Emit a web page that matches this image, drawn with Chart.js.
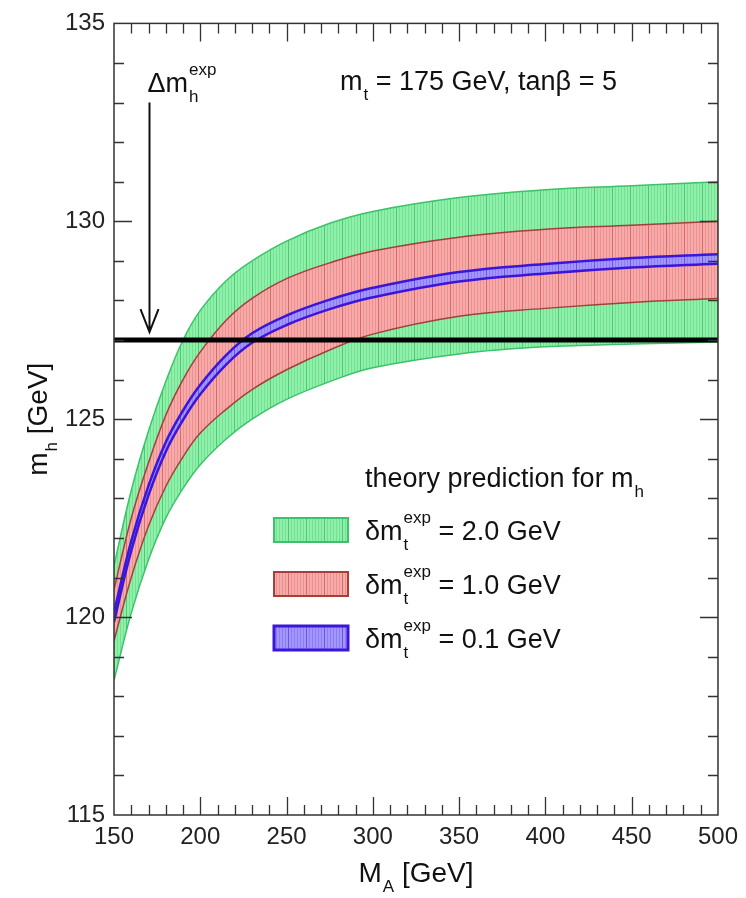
<!DOCTYPE html>
<html>
<head>
<meta charset="utf-8">
<script src="https://cdn.jsdelivr.net/npm/chart.js@4.4.1/dist/chart.umd.min.js"></script>
<style>
  html, body { margin: 0; padding: 0; background: #fff; }
  #wrap { width: 746px; height: 898px; }
</style>
</head>
<body>
<div id="wrap"><canvas id="mhChart" width="746" height="898"></canvas></div>
<script>
// M_A grid (GeV) and band edges (m_h in GeV)
const maValues   = [150, 160, 170, 180, 190, 200, 215, 230, 250, 275, 300, 350, 400, 450, 500];
const greenUpper = [121.3, 123.2, 124.7, 125.95, 127.0, 127.75, 128.5, 129.0, 129.5, 129.95, 130.25, 130.6, 130.8, 130.9, 131.0];
const redUpper   = [120.7, 122.5, 123.9, 125.1, 126.0, 126.7, 127.5, 128.05, 128.55, 128.95, 129.25, 129.6, 129.8, 129.9, 130.0];
const blueUpper  = [120.12, 121.92, 123.32, 124.42, 125.22, 125.87, 126.62, 127.17, 127.62, 128.02, 128.32, 128.72, 128.92, 129.07, 129.17];
const blueLower  = [119.88, 121.68, 123.08, 124.18, 124.98, 125.63, 126.38, 126.93, 127.38, 127.78, 128.08, 128.48, 128.68, 128.83, 128.93];
const redLower   = [119.4, 121.0, 122.3, 123.3, 124.05, 124.65, 125.25, 125.75, 126.25, 126.75, 127.15, 127.6, 127.8, 127.95, 128.05];
const greenLower = [118.4, 120.1, 121.45, 122.5, 123.25, 123.85, 124.5, 125.0, 125.5, 125.95, 126.3, 126.65, 126.83, 126.9, 126.95];

const expMh = 127;          // horizontal line
const arrowMA = 170;        // Delta m_h^exp arrow
const arrowFrom = 133.0;
const arrowTo = 127.2;

const xRange = [150, 500];
const yRange = [115, 135];
const xMajor = 50, xMinor = 10;
const yMajor = 5, yMinor = 1;

const bandNames = ['2.0', '1.0', '0.1'];

const FONT = "'Liberation Sans', Arial, Helvetica, sans-serif";

// vertical hatch patterns like the original fill
function hatch(base, line, dark) {
  const c = document.createElement('canvas');
  c.width = 18; c.height = 4;
  const g = c.getContext('2d');
  g.fillStyle = base; g.fillRect(0, 0, 18, 4);
  g.fillStyle = line;
  for (let x = 0; x < 18; x += 3) g.fillRect(x, 0, 1, 4);
  g.fillStyle = dark; g.fillRect(0, 0, 1, 4);
  return g.createPattern(c, 'repeat');
}
const greenPat = hatch('#8ff0aa', '#74e093', '#4fc774');
const redPat   = hatch('#f6aaaa', '#ec9090', '#d86a6a');
const bluePat  = hatch('#a496ff', '#8c7cf5', '#6a55e8');

const greenEdge = '#3cc26a', redEdge = '#a3403c', blueEdge = '#3b16d8';

const pts = ys => maValues.map((x, i) => ({ x: x, y: ys[i] }));

function band(ys, edge, width, fill, pat, order) {
  return {
    data: pts(ys), borderColor: edge, borderWidth: width, pointRadius: 0,
    tension: 0.4, fill: fill, backgroundColor: pat, order: order
  };
}

// text with sub/superscripts drawn left to right
function rich(ctx, parts, x, y) {
  let cx = x;
  for (const p of parts) {
    if (p.sub !== undefined || p.sup !== undefined) {
      let w = 0;
      ctx.font = '17px ' + FONT;
      if (p.sub) { ctx.fillText(p.sub, cx + 1, y + 10); w = Math.max(w, ctx.measureText(p.sub).width + 1); }
      if (p.sup) { ctx.fillText(p.sup, cx + 1, y - 17); w = Math.max(w, ctx.measureText(p.sup).width + 1); }
      cx += w;
    } else {
      ctx.font = (p.size || 27) + 'px ' + FONT;
      ctx.fillText(p.t, cx, y);
      cx += ctx.measureText(p.t).width;
    }
  }
  return cx - x;
}
function richWidth(ctx, parts) {
  ctx.save(); ctx.globalAlpha = 0;
  const w = rich(ctx, parts, 0, -1000);
  ctx.restore();
  return w;
}

const decor = {
  id: 'decor',
  afterDraw(chart) {
    const { ctx, chartArea: a, scales: { x, y } } = chart;
    ctx.save();
    // frame
    ctx.strokeStyle = '#333';
    ctx.lineWidth = 1.5;
    ctx.strokeRect(a.left, a.top, a.right - a.left, a.bottom - a.top);
    // inward ticks on all four sides
    ctx.lineWidth = 1.3;
    ctx.beginPath();
    for (let v = xRange[0] + xMinor; v < xRange[1]; v += xMinor) {
      const px = Math.round(x.getPixelForValue(v)) + 0.5;
      const len = v % xMajor === 0 ? 18 : 10;
      ctx.moveTo(px, a.bottom); ctx.lineTo(px, a.bottom - len);
      ctx.moveTo(px, a.top); ctx.lineTo(px, a.top + len);
    }
    for (let v = yRange[0] + yMinor; v < yRange[1]; v += yMinor) {
      const py = Math.round(y.getPixelForValue(v)) + 0.5;
      const len = v % yMajor === 0 ? 18 : 10;
      ctx.moveTo(a.left, py); ctx.lineTo(a.left + len, py);
      ctx.moveTo(a.right, py); ctx.lineTo(a.right - len, py);
    }
    ctx.stroke();

    ctx.fillStyle = '#111';
    ctx.textBaseline = 'alphabetic';
    ctx.textAlign = 'left';

    // arrow
    const ax = Math.round(x.getPixelForValue(arrowMA)) + 0.5;
    const yTop = y.getPixelForValue(arrowFrom), yTip = y.getPixelForValue(arrowTo);
    ctx.strokeStyle = '#111';
    ctx.lineWidth = 2;
    ctx.beginPath();
    ctx.moveTo(ax, yTop); ctx.lineTo(ax, yTip);
    ctx.moveTo(ax - 9, yTip - 23); ctx.lineTo(ax, yTip); ctx.lineTo(ax + 9, yTip - 23);
    ctx.stroke();

    rich(ctx, [{ t: '\u0394m' }, { sub: 'h', sup: 'exp' }], ax - 2, 92);
    rich(ctx, [{ t: 'm' }, { sub: 't' }, { t: ' = 175 GeV, tan\u03b2 = 5' }], 340, 90);

    // legend
    rich(ctx, [{ t: 'theory prediction for m' }, { sub: 'h' }], 365, 487);
    const pats = [greenPat, redPat, bluePat];
    const edges = [greenEdge, redEdge, blueEdge];
    for (let i = 0; i < 3; i++) {
      const base = 540 + i * 54;
      ctx.fillStyle = pats[i];
      ctx.fillRect(274, base - 22, 74, 24);
      ctx.strokeStyle = edges[i];
      ctx.lineWidth = i === 2 ? 3 : 2;
      ctx.strokeRect(274, base - 22, 74, 24);
      ctx.fillStyle = '#111';
      rich(ctx, [{ t: '\u03b4m' }, { sub: 't', sup: 'exp' }, { t: ' = ' + bandNames[i] + ' GeV' }], 365, base);
    }

    // axis titles
    const xt = [{ t: 'M', size: 28 }, { sub: 'A' }, { t: ' [GeV]', size: 28 }];
    const xw = richWidth(ctx, xt);
    rich(ctx, xt, (a.left + a.right) / 2 - xw / 2, 882);

    const yt = [{ t: 'm', size: 28 }, { sub: 'h' }, { t: ' [GeV]', size: 28 }];
    const yw = richWidth(ctx, yt);
    ctx.translate(47, (a.top + a.bottom) / 2);
    ctx.rotate(-Math.PI / 2);
    rich(ctx, yt, -yw / 2, 0);
    ctx.restore();
  }
};

const ctx = document.getElementById('mhChart').getContext('2d');
const chart = new Chart(ctx, {
  type: 'line',
  data: {
    datasets: [
      { data: [{ x: xRange[0], y: expMh }, { x: xRange[1], y: expMh }], borderColor: '#000', borderWidth: 5, pointRadius: 0, fill: false, order: 0 },
      band(blueUpper, blueEdge, 2.5, '+1', bluePat, 1),
      band(blueLower, blueEdge, 2.5, false, bluePat, 1),
      band(redUpper, redEdge, 1.5, '+1', redPat, 2),
      band(redLower, redEdge, 1.5, false, redPat, 2),
      band(greenUpper, greenEdge, 1.5, '+1', greenPat, 3),
      band(greenLower, greenEdge, 1.5, false, greenPat, 3)
    ]
  },
  options: {
    responsive: false,
    animation: false,
    devicePixelRatio: 1,
    layout: { padding: { top: 22, right: 25, left: 0, bottom: 0 } },
    scales: {
      x: {
        type: 'linear', min: xRange[0], max: xRange[1],
        grid: { display: false, drawTicks: false },
        border: { display: false },
        ticks: { stepSize: xMajor, padding: 8, color: '#222', font: { family: FONT, size: 24 }, autoSkip: false, maxRotation: 0 },
        afterFit(scale) { scale.height = 83; }
      },
      y: {
        min: yRange[0], max: yRange[1],
        grid: { display: false, drawTicks: false },
        border: { display: false },
        ticks: { stepSize: yMajor, padding: 9, color: '#222', font: { family: FONT, size: 24 } },
        afterFit(scale) { scale.width = 114; }
      }
    },
    plugins: {
      legend: { display: false },
      tooltip: { enabled: false },
      filler: { drawTime: 'beforeDatasetsDraw' }
    }
  },
  plugins: [decor]
});
</script>
</body>
</html>
